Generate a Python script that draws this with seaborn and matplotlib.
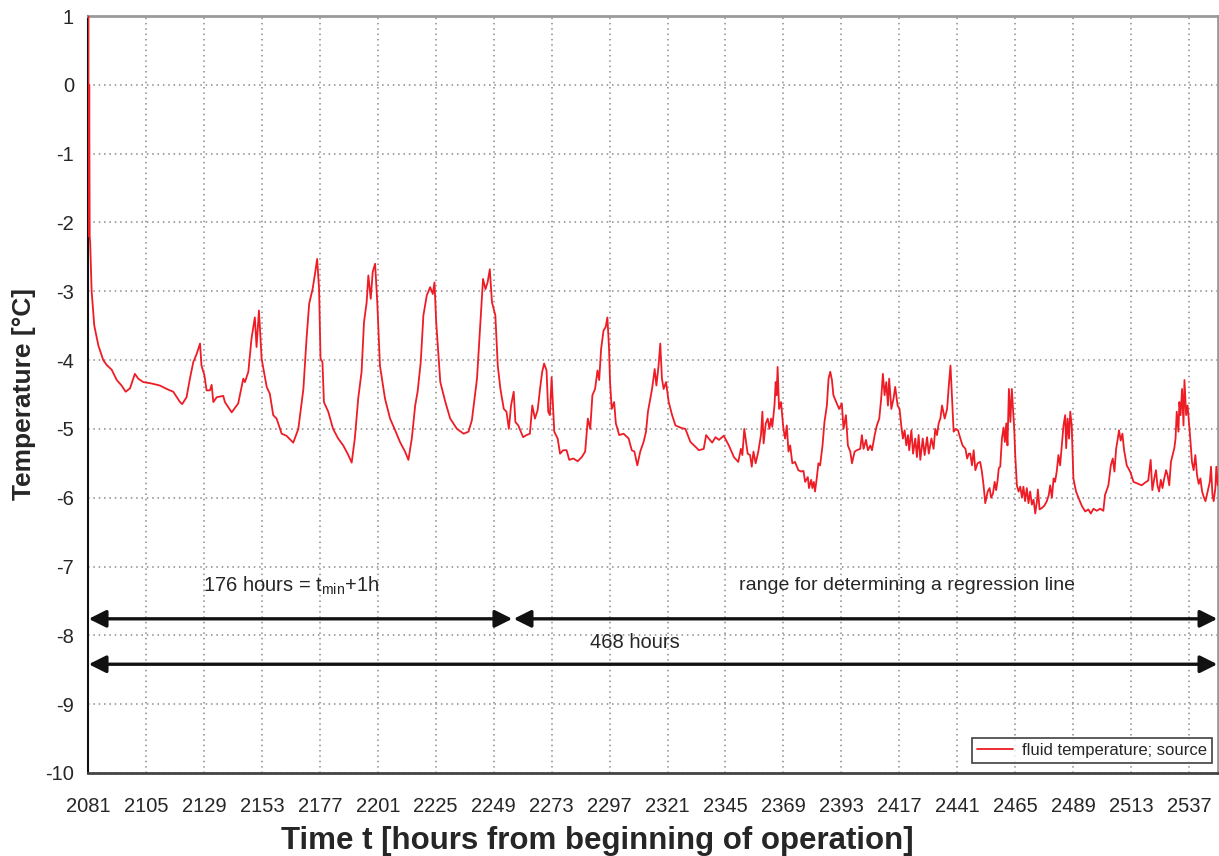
import numpy as np
import pandas as pd
import matplotlib
matplotlib.use("Agg")
import matplotlib.pyplot as plt
import seaborn as sns

# Fluid temperature at the heat source over the evaluation window (hours since start)
hours = [
    2081.0, 2081.1, 2081.3, 2081.5, 2081.7, 2081.9, 2082.5, 2083.6, 2085.3, 2087.3,
    2088.7, 2090.8, 2092.9, 2094.9, 2096.6, 2098.4, 2100.4, 2101.8, 2103.9, 2107.3,
    2110.8, 2113.6, 2116.3, 2119.1, 2120.0, 2121.8, 2123.2, 2124.6, 2126.0, 2127.4,
    2128.0, 2129.2, 2130.1, 2131.5, 2132.2, 2132.9, 2134.3, 2137.0, 2137.7, 2140.5,
    2143.2, 2145.3, 2146.0, 2147.4, 2148.7, 2150.1, 2150.8, 2151.8, 2152.9, 2155.0,
    2156.3, 2157.7, 2159.1, 2161.2, 2163.2, 2166.0, 2168.1, 2170.2, 2171.5, 2172.6,
    2174.0, 2174.9, 2175.9, 2176.7, 2177.3, 2178.1, 2178.7, 2180.5, 2182.5, 2184.6,
    2186.7, 2188.8, 2190.2, 2191.5, 2192.9, 2194.3, 2195.3, 2196.4, 2197.1, 2198.1,
    2198.9, 2199.9, 2200.8, 2201.9, 2204.0, 2206.1, 2208.2, 2210.2, 2212.3, 2213.7,
    2215.1, 2216.5, 2217.5, 2218.8, 2219.9, 2221.3, 2222.7, 2223.8, 2224.5, 2225.2,
    2226.9, 2229.0, 2231.0, 2233.8, 2236.6, 2238.6, 2240.0, 2242.1, 2243.5, 2244.6,
    2245.6, 2246.5, 2247.4, 2248.3, 2249.7, 2250.7, 2251.8, 2253.2, 2254.3, 2255.3,
    2256.2, 2257.3, 2258.0, 2259.2, 2261.2, 2262.6, 2264.0, 2265.0, 2266.1, 2267.2,
    2268.2, 2269.1, 2269.9, 2270.9, 2271.6, 2272.3, 2273.0, 2274.1, 2275.5, 2276.5,
    2277.8, 2279.2, 2280.3, 2282.0, 2283.8, 2285.5, 2286.9, 2288.0, 2289.0, 2289.9,
    2291.0, 2292.0, 2292.7, 2293.5, 2294.5, 2295.4, 2296.1, 2296.8, 2297.2, 2297.9,
    2298.9, 2299.6, 2301.0, 2302.8, 2304.9, 2306.2, 2307.3, 2308.5, 2309.7, 2311.1,
    2312.1, 2312.9, 2313.9, 2314.6, 2315.7, 2316.4, 2317.3, 2318.0, 2318.7, 2319.4,
    2320.4, 2321.5, 2322.9, 2324.3, 2327.0, 2328.4, 2330.5, 2332.6, 2334.0, 2336.0,
    2337.0, 2338.1, 2339.5, 2340.9, 2342.3, 2344.3, 2346.4, 2348.5, 2350.3, 2351.4,
    2352.0, 2352.8, 2354.2, 2355.2, 2355.9, 2356.6, 2357.5, 2358.6, 2359.7, 2360.3,
    2360.8, 2361.7, 2362.5, 2363.2, 2363.9, 2364.4, 2365.3, 2365.8, 2366.2, 2366.6,
    2367.2, 2368.0, 2369.0, 2369.7, 2370.4, 2371.1, 2371.8, 2372.7, 2373.8, 2375.2,
    2376.3, 2377.3, 2378.0, 2379.1, 2379.6, 2380.5, 2381.0, 2381.6, 2382.1, 2382.8,
    2383.5, 2384.2, 2385.2, 2386.0, 2387.0, 2387.7, 2388.4, 2389.1, 2389.7, 2391.1,
    2392.1, 2393.2, 2393.9, 2394.9, 2395.7, 2396.7, 2397.4, 2398.5, 2399.4, 2400.8,
    2401.5, 2402.2, 2403.2, 2404.0, 2405.0, 2405.7, 2406.8, 2407.7, 2408.7, 2409.5,
    2410.2, 2410.9, 2411.6, 2412.3, 2412.8, 2413.7, 2414.6, 2415.3, 2416.3, 2417.1,
    2417.8, 2418.5, 2419.2, 2419.9, 2420.6, 2421.1, 2422.0, 2422.7, 2423.6, 2424.3,
    2425.0, 2425.7, 2426.7, 2427.5, 2428.5, 2429.2, 2430.3, 2431.2, 2431.9, 2432.6,
    2433.3, 2434.0, 2434.7, 2435.8, 2436.8, 2437.5, 2438.2, 2438.8, 2439.5, 2440.5,
    2441.3, 2442.3, 2443.2, 2444.4, 2445.1, 2445.8, 2446.4, 2447.1, 2447.8, 2448.5,
    2449.4, 2450.5, 2451.2, 2451.9, 2452.6, 2453.6, 2454.4, 2455.0, 2455.8, 2456.5,
    2457.1, 2457.7, 2458.2, 2458.8, 2459.5, 2460.2, 2460.7, 2461.3, 2461.8, 2462.4,
    2463.0, 2463.6, 2464.0, 2464.6, 2465.0, 2465.7, 2466.4, 2467.1, 2467.8, 2468.4,
    2469.1, 2469.8, 2470.5, 2471.2, 2471.9, 2472.6, 2473.3, 2474.0, 2474.4, 2475.1,
    2476.0, 2477.0, 2478.1, 2478.9, 2479.5, 2480.2, 2480.9, 2481.5, 2482.2, 2482.9,
    2483.6, 2484.3, 2485.0, 2485.7, 2486.1, 2486.7, 2487.3, 2487.8, 2488.4, 2489.1,
    2490.2, 2491.2, 2492.6, 2494.0, 2495.3, 2496.3, 2497.4, 2498.8, 2500.2, 2501.5,
    2502.2, 2503.6, 2504.6, 2505.4, 2506.1, 2506.8, 2507.5, 2508.0, 2508.7, 2509.4,
    2510.1, 2511.2, 2512.6, 2514.0, 2516.0, 2517.4, 2518.8, 2520.1, 2521.1, 2521.8,
    2522.6, 2523.3, 2523.9, 2524.6, 2525.3, 2526.0, 2526.6, 2527.5, 2528.1, 2528.8,
    2529.5, 2530.2, 2530.9, 2531.4, 2531.9, 2532.6, 2533.0, 2533.5, 2534.1, 2534.7,
    2535.1, 2535.8, 2536.4, 2536.9, 2537.5, 2538.2, 2538.9, 2539.6, 2540.3, 2541.0,
    2541.7, 2542.4, 2543.1, 2543.8, 2544.7, 2545.6, 2546.1, 2546.7, 2547.2, 2547.9,
    2548.3, 2548.9,
]

temperature = [
    -1.50, 1.00, -2.20, 0.00, -2.20, -2.30, -3.00, -3.50, -3.79, -4.00,
    -4.07, -4.14, -4.29, -4.37, -4.46, -4.41, -4.20, -4.27, -4.32, -4.34,
    -4.37, -4.42, -4.46, -4.61, -4.64, -4.54, -4.27, -4.03, -3.91, -3.76,
    -4.08, -4.22, -4.44, -4.44, -4.36, -4.61, -4.54, -4.52, -4.61, -4.76,
    -4.63, -4.27, -4.32, -4.17, -3.69, -3.38, -3.81, -3.28, -3.98, -4.39,
    -4.49, -4.80, -4.85, -5.07, -5.10, -5.20, -5.00, -4.42, -3.69, -3.18,
    -2.97, -2.77, -2.53, -2.97, -3.98, -4.03, -4.61, -4.75, -5.00, -5.14,
    -5.24, -5.38, -5.49, -5.14, -4.56, -4.17, -3.45, -3.16, -2.77, -3.11,
    -2.72, -2.60, -3.16, -4.08, -4.56, -4.85, -5.02, -5.19, -5.33, -5.45,
    -5.14, -4.66, -4.46, -4.03, -3.35, -3.06, -2.94, -3.04, -2.87, -3.45,
    -4.32, -4.61, -4.85, -5.00, -5.07, -5.04, -4.87, -4.27, -3.45, -2.82,
    -2.97, -2.87, -2.68, -3.16, -3.35, -4.08, -4.42, -4.71, -4.75, -5.00,
    -4.66, -4.46, -4.90, -4.95, -5.12, -5.09, -5.07, -4.66, -4.85, -4.73,
    -4.42, -4.17, -4.05, -4.15, -4.75, -4.80, -4.25, -5.04, -5.14, -5.36,
    -5.31, -5.31, -5.45, -5.43, -5.47, -5.41, -5.33, -4.85, -5.00, -4.51,
    -4.42, -4.15, -4.29, -3.84, -3.57, -3.52, -3.38, -3.84, -4.32, -4.71,
    -4.61, -4.92, -5.09, -5.07, -5.14, -5.31, -5.33, -5.53, -5.33, -5.19,
    -5.04, -4.75, -4.56, -4.42, -4.13, -4.37, -4.08, -3.76, -4.27, -4.42,
    -4.32, -4.61, -4.80, -4.95, -4.99, -5.00, -5.19, -5.26, -5.31, -5.29,
    -5.09, -5.14, -5.20, -5.12, -5.16, -5.10, -5.24, -5.41, -5.48, -5.29,
    -5.38, -5.00, -5.36, -5.38, -5.55, -5.33, -5.50, -5.33, -5.09, -4.75,
    -5.21, -4.92, -4.85, -5.00, -4.85, -4.97, -4.66, -4.32, -4.51, -4.10,
    -4.71, -4.61, -5.00, -5.14, -4.95, -5.33, -5.24, -5.50, -5.48, -5.60,
    -5.62, -5.61, -5.77, -5.70, -5.86, -5.74, -5.86, -5.77, -5.91, -5.72,
    -5.50, -5.53, -5.24, -4.90, -4.66, -4.27, -4.17, -4.29, -4.51, -4.63,
    -4.71, -4.63, -5.00, -4.80, -5.24, -5.33, -5.50, -5.33, -5.31, -5.29,
    -5.09, -5.29, -5.16, -5.31, -5.24, -5.31, -5.09, -4.95, -4.85, -4.56,
    -4.20, -4.51, -4.32, -4.66, -4.27, -4.71, -4.56, -4.39, -4.66, -4.71,
    -4.95, -5.14, -5.02, -5.24, -5.09, -5.31, -5.02, -5.36, -5.14, -5.41,
    -5.09, -5.45, -5.14, -5.38, -5.12, -5.36, -5.14, -5.29, -5.00, -5.09,
    -4.92, -4.85, -4.66, -4.85, -4.71, -4.37, -4.08, -4.51, -5.04, -5.00,
    -5.02, -5.14, -5.24, -5.29, -5.43, -5.36, -5.36, -5.53, -5.31, -5.60,
    -5.50, -5.48, -5.62, -5.82, -6.08, -5.91, -5.86, -6.00, -5.94, -5.77,
    -5.89, -5.75, -5.57, -5.55, -5.14, -4.98, -5.19, -4.92, -5.24, -4.42,
    -4.90, -4.42, -4.66, -5.00, -5.38, -5.82, -5.91, -5.84, -6.00, -5.84,
    -6.05, -5.86, -6.08, -5.91, -6.10, -6.03, -6.23, -6.05, -5.88, -6.17,
    -6.15, -6.12, -6.05, -5.96, -5.82, -6.00, -5.72, -5.77, -5.62, -5.38,
    -5.53, -5.24, -4.95, -4.80, -5.28, -4.85, -5.14, -4.75, -4.95, -5.72,
    -5.91, -6.00, -6.12, -6.20, -6.17, -6.23, -6.16, -6.19, -6.16, -6.19,
    -5.96, -5.82, -5.53, -5.43, -5.62, -5.29, -5.14, -5.02, -5.17, -5.07,
    -5.31, -5.53, -5.62, -5.77, -5.80, -5.82, -5.78, -5.75, -5.45, -5.89,
    -5.72, -5.60, -5.82, -5.91, -5.74, -5.86, -5.74, -5.60, -5.67, -5.82,
    -5.48, -5.38, -5.28, -5.14, -4.75, -5.04, -4.61, -4.80, -4.42, -4.95,
    -4.29, -4.80, -4.66, -4.87, -5.14, -5.48, -5.60, -5.38, -5.67, -5.80,
    -5.72, -5.91, -5.99, -6.05, -5.91, -5.77, -5.55, -5.96, -6.05, -5.86,
    -5.55, -5.82,
]

# Axis ticks and annotated time ranges
x_ticks = list(range(2081, 2549, 24))
y_ticks = list(range(-10, 2))
t_start, t_split, t_end = 2081, 2257, 2549
legend_label = "fluid temperature; source"

df = pd.DataFrame({"hour": hours, "temp": temperature})

sns.set_style("white")
plt.rcParams["font.family"] = ["Liberation Sans", "DejaVu Sans"]
plt.rcParams["axes.unicode_minus"] = False

fig = plt.figure(figsize=(12.19, 8.56), dpi=100)
ax = fig.add_axes([0.0722, 0.097, 0.9270, 0.8843])

red = "#ee1c25"
sns.lineplot(data=df, x="hour", y="temp", ax=ax, color=red, linewidth=1.3,
             estimator=None, sort=False, label=legend_label, zorder=4)

ax.set_xlim(t_start, t_end)
ax.set_ylim(-10, 1)
ax.set_xticks(x_ticks)
ax.set_xticks([t + 12 for t in x_ticks], minor=True)
ax.set_yticks(y_ticks)
ax.tick_params(axis="x", which="major", direction="inout", length=12, width=1.5,
               color="#333333", labelsize=14.5, pad=11)
ax.tick_params(axis="x", which="minor", direction="out", length=5, width=1.2,
               color="#333333")
ax.tick_params(axis="y", which="major", direction="out", length=6, width=1.2,
               color="#222222", labelsize=14.5, pad=4)

ax.grid(True, which="major", linestyle=(0, (1, 2.5)), color="#8a8a8a", linewidth=1.1)
ax.set_axisbelow(True)

for side in ("top", "right"):
    ax.spines[side].set_color("#9a9a9a")
    ax.spines[side].set_linewidth(2)
ax.spines["left"].set_color("#111111")
ax.spines["left"].set_linewidth(1.5)
ax.spines["bottom"].set_color("#444444")
ax.spines["bottom"].set_linewidth(2)

ax.set_xlabel("Time t [hours from beginning of operation]", fontsize=22.5,
              fontweight="bold", va="center")
ax.xaxis.set_label_coords(0.451, -0.0905)
ax.set_ylabel("Temperature [°C]", fontsize=19, fontweight="bold")
ax.yaxis.set_label_coords(-0.046, 0.5)

# Time-range arrows
arrow_kw = dict(arrowstyle="<|-|>", color="#111111", lw=2.4, mutation_scale=26,
                shrinkA=0.5, shrinkB=0.5)
ax.annotate("", xy=(t_split, -7.76), xytext=(t_start, -7.76), arrowprops=arrow_kw)
ax.annotate("", xy=(t_end, -7.76), xytext=(t_split, -7.76), arrowprops=arrow_kw)
ax.annotate("", xy=(t_end, -8.42), xytext=(t_start, -8.42), arrowprops=arrow_kw)

ax.text(2128.5, -7.28, r"176 hours = t$_{\mathregular{min}}$+1h", fontsize=14.5,
        ha="left", va="center")
ax.text(2420, -7.28, "range for determining a regression line", fontsize=14,
        ha="center", va="center")
ax.text(2307.5, -8.1, "468 hours", fontsize=14.5, ha="center", va="center")

leg = ax.legend(loc="lower right", bbox_to_anchor=(0.9945, 0.0135), fontsize=12,
                frameon=True, fancybox=False, borderpad=0.3, handlelength=2.2,
                handletextpad=0.5, borderaxespad=0)
leg.get_frame().set_edgecolor("#111111")
leg.get_frame().set_linewidth(1.2)

fig.savefig("out.png", dpi=100)
